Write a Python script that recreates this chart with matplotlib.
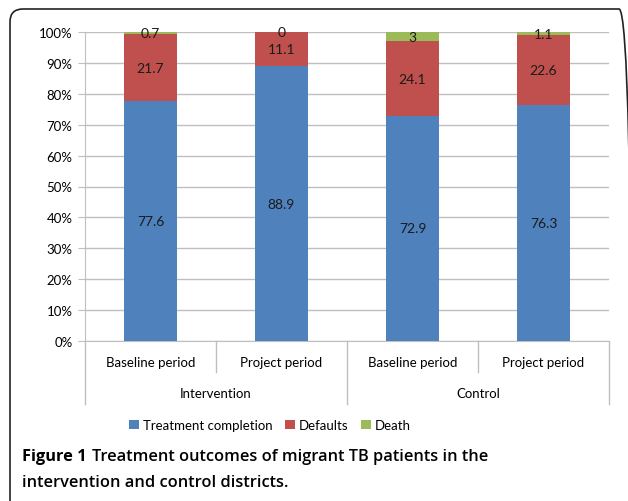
import matplotlib.pyplot as plt
from matplotlib.patches import FancyBboxPatch
from matplotlib.transforms import blended_transform_factory
import numpy as np

plt.rcParams['font.family'] = ['Lato', 'DejaVu Sans']

periods = ['Baseline period', 'Project period', 'Baseline period', 'Project period']
groups = ['Intervention', 'Control']
completion = [77.6, 88.9, 72.9, 76.3]
defaults = [21.7, 11.1, 24.1, 22.6]
death = [0.7, 0, 3, 1.1]
series_names = ['Treatment completion', 'Defaults', 'Death']
colors = ['#4F81BD', '#C0504D', '#9BBB59']

fig = plt.figure(figsize=(6.28, 5.02), dpi=100)
ax = fig.add_axes([85 / 628, 1 - 342 / 502, 524 / 628, 309 / 502])

x = np.arange(len(periods))
bottom = np.zeros(len(periods))
for vals, name, col in zip([completion, defaults, death], series_names, colors):
    vals = np.array(vals)
    ax.bar(x, vals, 0.4, bottom=bottom, color=col, label=name, zorder=3)
    for xi, b, v in zip(x, bottom, vals):
        ax.text(xi, b + v / 2, f'{v:g}', ha='center', va='center',
                fontsize=10, color='#1a1a1a', zorder=4)
    bottom += vals

ax.set_xlim(-0.5, 3.5)
ax.set_ylim(0, 100)
ax.set_yticks(np.arange(0, 101, 10))
ax.set_yticklabels([f'{v}%' for v in range(0, 101, 10)], fontsize=9.5)
ax.yaxis.grid(True, color='#bfbfbf', linewidth=1, zorder=0)
ax.tick_params(axis='y', length=5, color='#bfbfbf', pad=4)
ax.set_xticks([])
for s in ['top', 'right']:
    ax.spines[s].set_visible(False)
ax.spines['left'].set_color('#bfbfbf')
ax.spines['bottom'].set_color('#bfbfbf')

tr = blended_transform_factory(ax.transData, ax.transAxes)
for xi, p in zip(x, periods):
    ax.text(xi, -0.068, p, transform=tr, ha='center', va='center', fontsize=9.5)
for gi, g in enumerate(groups):
    ax.text(gi * 2 + 0.5, -0.168, g, transform=tr, ha='center', va='center', fontsize=9.5)
for xs in [0.5, 2.5]:
    ax.plot([xs, xs], [0, -0.1], transform=tr, color='#bfbfbf', lw=1, clip_on=False)
for xs in [-0.5, 1.5, 3.5]:
    ax.plot([xs, xs], [0, -0.204], transform=tr, color='#bfbfbf', lw=1, clip_on=False)

fig.legend(loc='center', bbox_to_anchor=(270 / 628, 1 - 426 / 502), ncol=3,
           frameon=False, fontsize=9.5, handlelength=0.7, handleheight=0.7,
           handletextpad=0.3, columnspacing=1.0)

# caption: bold "Figure 1", then the title right after it
cap_font = ['Open Sans', 'DejaVu Sans']
fig_label = fig.text(22 / 628, 1 - 457 / 502, 'Figure 1', fontsize=11.8, fontweight='bold',
                     family=cap_font, va='center')
renderer = fig.canvas.get_renderer()
x_end = fig_label.get_window_extent(renderer).x1
fig.text((x_end + 5) / 628, 1 - 457 / 502, 'Treatment outcomes of migrant TB patients in the',
         fontsize=11.8, fontweight='semibold', family=cap_font, va='center')
fig.text(22 / 628, 1 - 483 / 502, 'intervention and control districts.',
         fontsize=11.8, fontweight='semibold', family=cap_font, va='center')

box = FancyBboxPatch((0.10, -0.5), 6.22, 5.42, boxstyle='round,pad=0,rounding_size=0.13',
                     transform=fig.dpi_scale_trans, fill=False, edgecolor='#222222', lw=1.2)
fig.patches.append(box)

fig.savefig('out.png', dpi=100)
